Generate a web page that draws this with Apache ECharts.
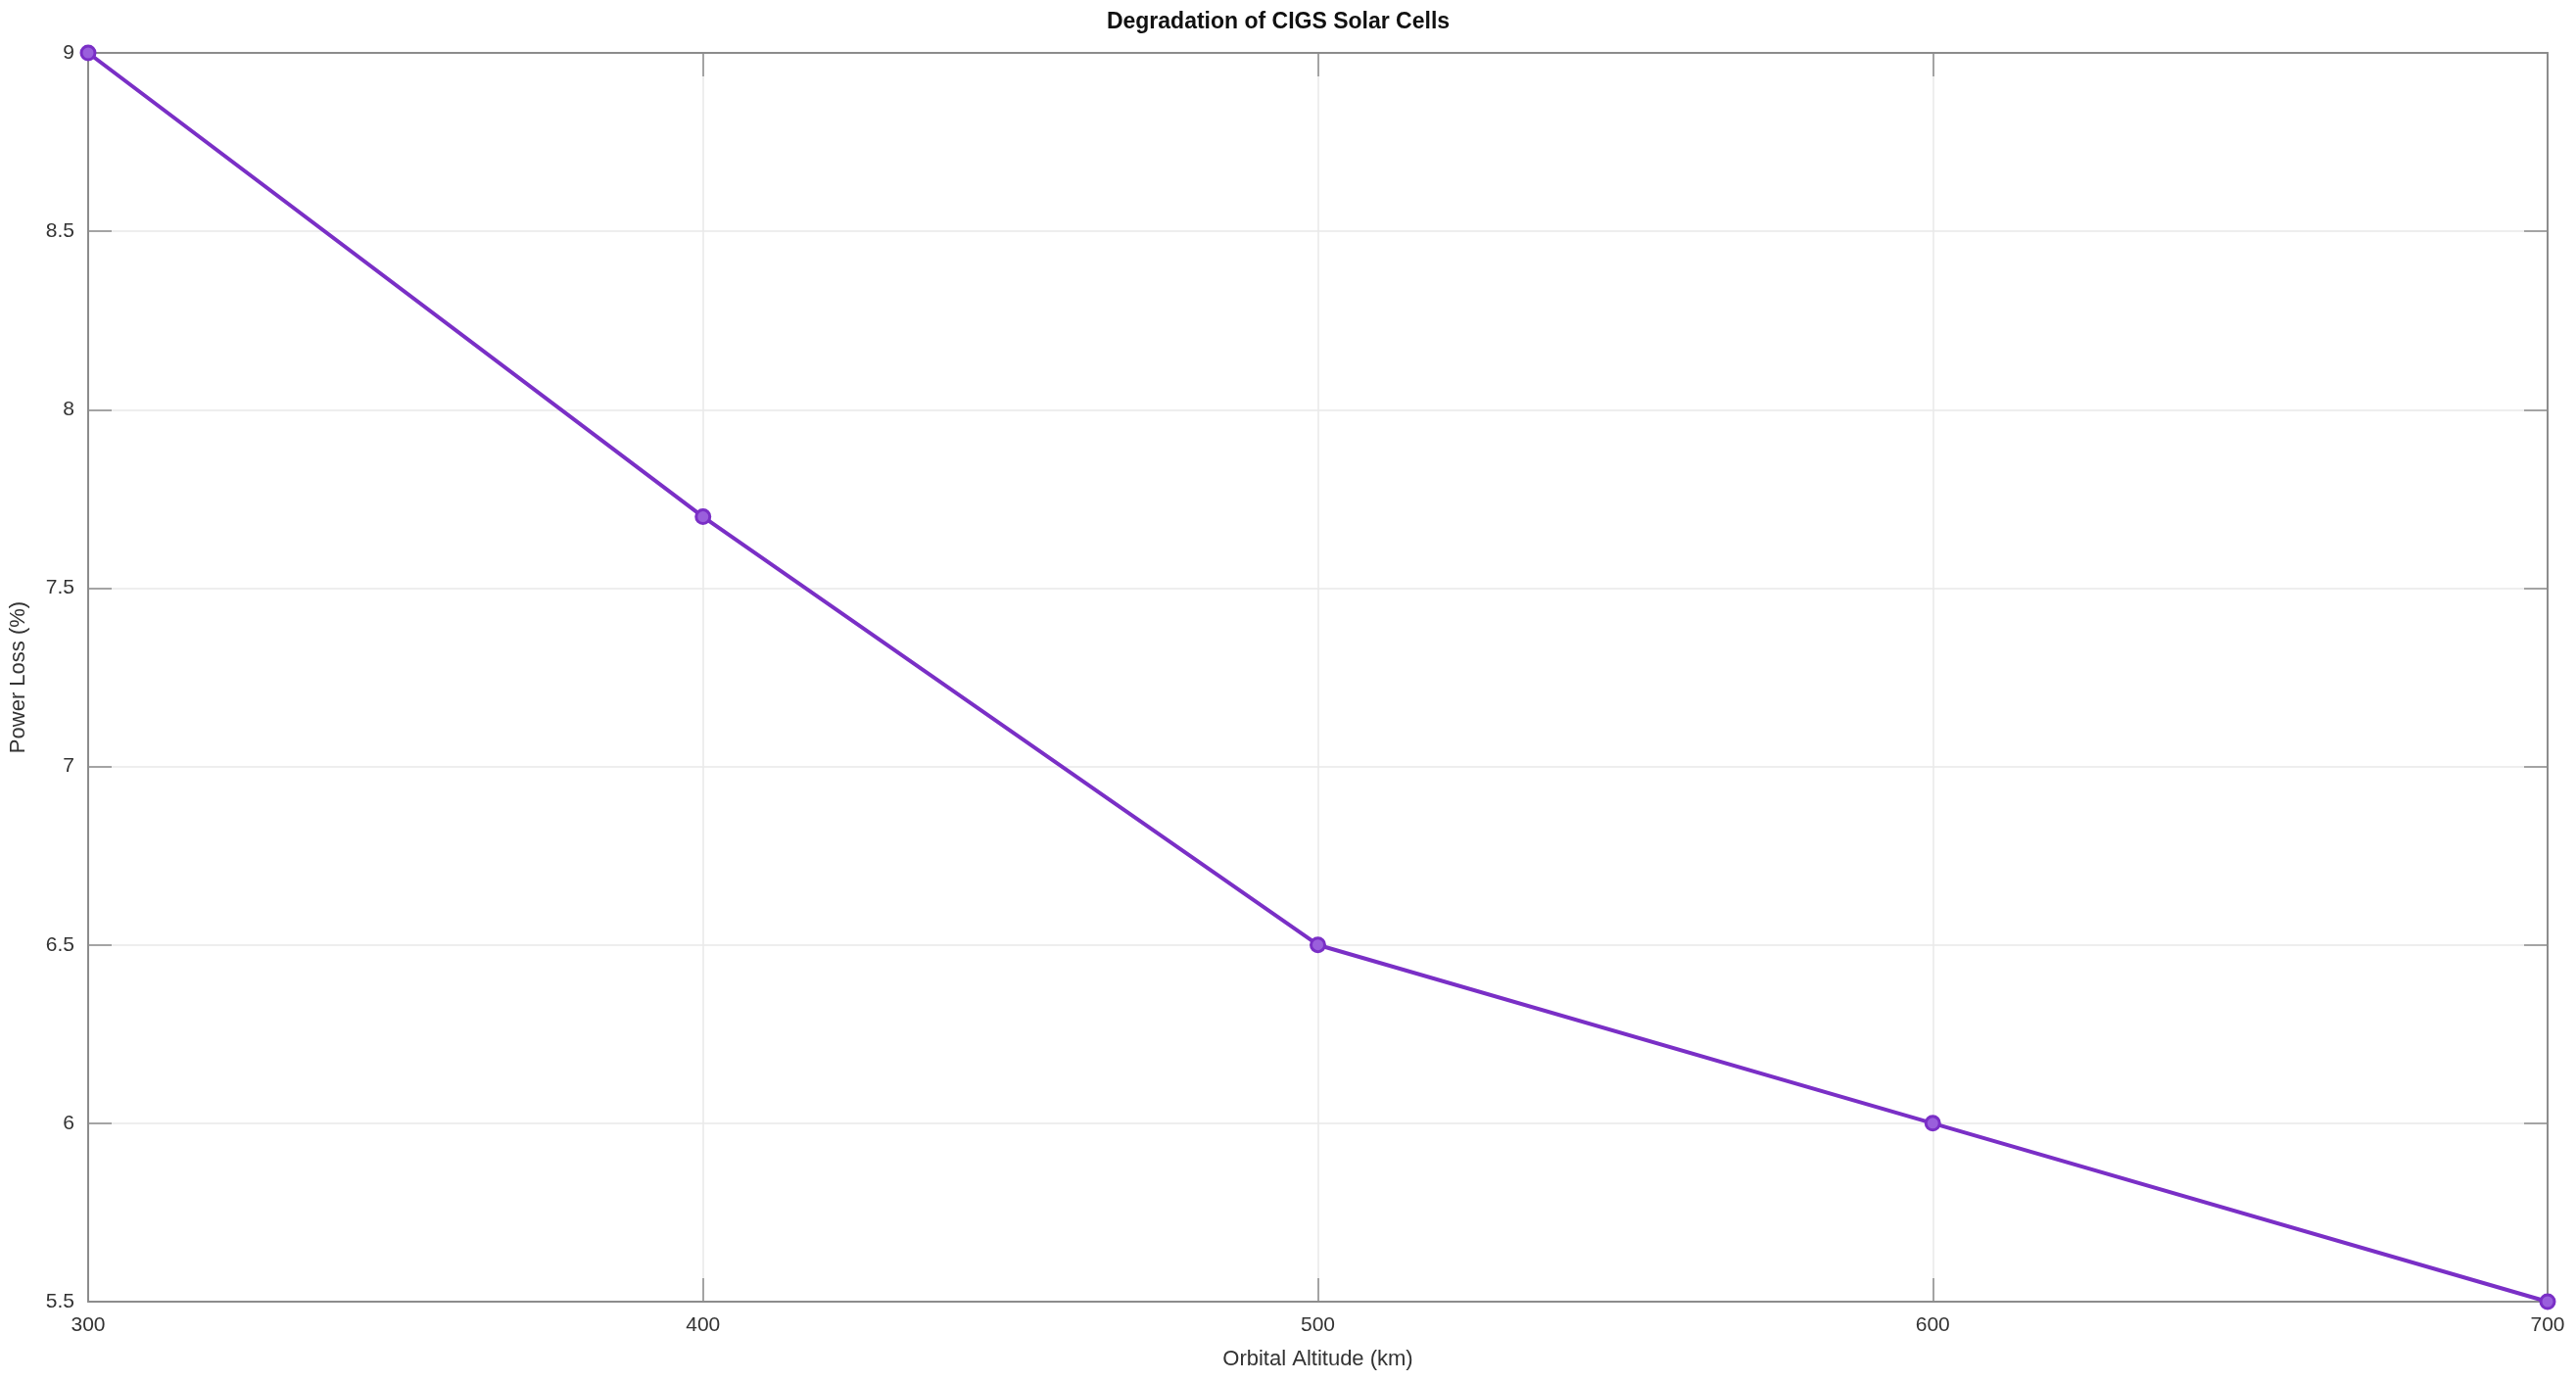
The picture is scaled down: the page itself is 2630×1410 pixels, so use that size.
<!DOCTYPE html>
<html>
<head>
<meta charset="utf-8">
<script src="https://cdn.jsdelivr.net/npm/echarts@6/dist/echarts.min.js"></script>
<style>
  html, body { margin: 0; padding: 0; background: #fff; }
  #chart { width: 2630px; height: 1410px; }
</style>
</head>
<body>
<div id="chart"></div>
<script>
// altitude (km) vs power loss (%)
const altitudes = [300, 400, 500, 600, 700];
const powerLoss = [9.0, 7.7, 6.5, 6.0, 5.5];

const lineColor = '#7a2fc6';
const axisGrey = '#8c8c8c';
const font = 'Liberation Sans, Arial, sans-serif';

const chart = echarts.init(document.getElementById('chart'));

const baseAxis = {
  axisLine: { show: true, lineStyle: { color: axisGrey, width: 2 } },
  axisTick: { show: true, inside: true, length: 24, lineStyle: { color: axisGrey, width: 1.5 } },
  splitLine: { show: true, lineStyle: { color: '#e8e8e8', width: 1.5 } },
  axisLabel: { color: '#333', fontSize: 21, fontFamily: font }
};

chart.setOption({
  animation: false,
  backgroundColor: '#fff',
  title: {
    text: 'Degradation of CIGS Solar Cells',
    left: 1300, top: 6, textAlign: 'center',
    textStyle: { fontSize: 23, fontWeight: 'bold', color: '#111', fontFamily: font }
  },
  grid: { left: 85, right: 29, top: 54, bottom: 81, containLabel: false },
  xAxis: [
    Object.assign({}, baseAxis, {
      type: 'value', min: 300, max: 700, interval: 100,
      name: 'Orbital Altitude (km)', nameLocation: 'middle', nameGap: 48,
      nameTextStyle: { fontSize: 22, color: '#333', fontFamily: font },
      axisLabel: Object.assign({}, baseAxis.axisLabel, { margin: 14 })
    }),
    Object.assign({}, baseAxis, {
      type: 'value', min: 300, max: 700, interval: 100, position: 'top',
      axisLabel: { show: false }, splitLine: { show: false }
    })
  ],
  yAxis: [
    Object.assign({}, baseAxis, {
      type: 'value', min: 5.5, max: 9, interval: 0.5,
      name: 'Power Loss (%)', nameLocation: 'middle', nameGap: 60,
      nameTextStyle: { fontSize: 22, color: '#333', fontFamily: font },
      axisLabel: Object.assign({}, baseAxis.axisLabel, { margin: 14 })
    }),
    Object.assign({}, baseAxis, {
      type: 'value', min: 5.5, max: 9, interval: 0.5, position: 'right',
      axisLabel: { show: false }, splitLine: { show: false }
    })
  ],
  series: [{
    type: 'line',
    data: altitudes.map((a, i) => [a, powerLoss[i]]),
    lineStyle: { color: lineColor, width: 4 },
    itemStyle: { color: '#9a5fdc', borderColor: lineColor, borderWidth: 3 },
    symbol: 'circle',
    symbolSize: 14,
    clip: false
  }]
});
</script>
</body>
</html>
